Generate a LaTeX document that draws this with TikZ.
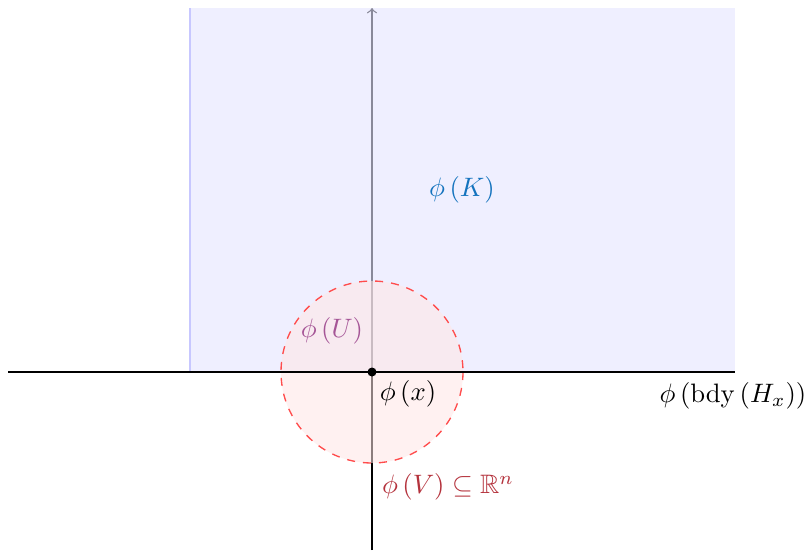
\documentclass[tikz,border=0pt]{standalone}
\usepackage{amssymb}
\begin{document}
\begin{tikzpicture}[x=0.375pt,y=-0.375pt,
  lbl/.style={inner sep=1pt},
  axis/.style={draw=black, line width=0.5pt},
  halfspace/.style={fill=blue!10, fill opacity=0.6},
  nbhd/.style={draw=red!70, dashed, line width=0.5pt, fill=red!10, fill opacity=0.55},
  boundary/.style={draw=black, line width=1.1pt}]
\useasboundingbox (0,0) rectangle (806,550);
% coordinates
\coordinate (O) at (372,372);
\coordinate (ybot) at (372,550);
\coordinate (ytop) at (372,8);
\coordinate (xl) at (8,372);
\coordinate (xr) at (735,372);
% vertical axis
\draw[axis,->] (ybot) -- (ytop);
% half space
\fill[halfspace] (190,8) rectangle (735,372);
\draw[blue!22, line width=0.8pt] (190,8) -- (190,372);
% neighbourhood
\path[nbhd] (O) circle[radius=91];
% boundary line
\draw[boundary] (xl) -- (xr);
\fill[black] (O) circle[radius=4.5];
% labels
\node[lbl, text={rgb,255:red,20;green,115;blue,190}] (K) at (462,190) {$\phi\left(K\right)$};
\node[lbl, text={rgb,255:red,165;green,85;blue,150}] (U) at (332,331) {$\phi\left(U\right)$};
\node[lbl] (x) at (408,394) {$\phi\left(x\right)$};
\node[lbl, text={rgb,255:red,180;green,50;blue,60}] (V) at (448,487) {$\phi\left(V\right)\subseteq\mathbb{R}^n$};
\node[lbl] (bdy) at (733,396) {$\phi\left(\mathrm{bdy}\left(H_x\right)\right)$};
\end{tikzpicture}
\end{document}
